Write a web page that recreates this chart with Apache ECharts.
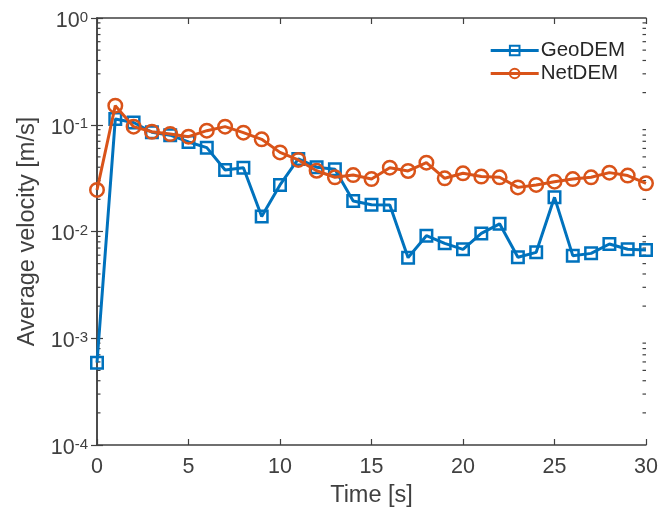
<!DOCTYPE html>
<html>
<head>
<meta charset="utf-8">
<script src="https://cdn.jsdelivr.net/npm/echarts@6/dist/echarts.min.js"></script>
<style>
  html, body { margin: 0; padding: 0; background: #fff; }
  #chart { width: 662px; height: 514px; }
</style>
</head>
<body>
<div id="chart"></div>
<script>
// Time samples [s]
const time = [0,1,2,3,4,5,6,7,8,9,10,11,12,13,14,15,16,17,18,19,20,21,22,23,24,25,26,27,28,29,30];

// Average velocity [m/s] per solver
const geoDEM = [0.00059, 0.113, 0.105, 0.085, 0.0799, 0.069, 0.061, 0.0377, 0.0396, 0.0138, 0.0273,
  0.0478, 0.040, 0.0382, 0.0193, 0.0178, 0.0177, 0.00569, 0.00914, 0.00775, 0.00681,
  0.0096, 0.0118, 0.00573, 0.00638, 0.0209, 0.00594, 0.00624, 0.00764, 0.00681, 0.00671];
const netDEM = [0.0245, 0.151, 0.096, 0.086, 0.0819, 0.0773, 0.088, 0.096, 0.0843, 0.073, 0.0551,
  0.0468, 0.0371, 0.0322, 0.0338, 0.031, 0.0396, 0.0369, 0.0441, 0.0315, 0.0351,
  0.0327, 0.0322, 0.0259, 0.0273, 0.0293, 0.031, 0.0322, 0.0356, 0.0334, 0.0283];

// Axis ranges and tick labels
const xTicks = [0, 5, 10, 15, 20, 25, 30];
const yMin = 1e-4, yMax = 1;

// Log-axis minor tick values (2..9 x 10^k)
const minorVals = [];
for (let k = -4; k < 0; k++) for (let m = 2; m <= 9; m++) minorVals.push(m * Math.pow(10, k));

const axisColor = '#404040';
const font = 'Liberation Sans, Arial, Helvetica, sans-serif';
const blue = '#0072BD', orange = '#D95319';

const chart = echarts.init(document.getElementById('chart'), null, { renderer: 'canvas' });

// "10" with a raised exponent
const yLabel = {
  color: axisColor, fontFamily: font, margin: 9, padding: [6, 0, 0, 0],
  formatter: v => '{b|10}{s|' + Math.round(Math.log10(v)) + '}',
  rich: {
    b: { fontSize: 21.5, fontFamily: font, color: axisColor, lineHeight: 22, verticalAlign: 'bottom' },
    s: { fontSize: 15, fontFamily: font, color: axisColor, lineHeight: 20, verticalAlign: 'top', padding: [0, 0, 9, 0] }
  }
};

chart.setOption({
  animation: false,
  backgroundColor: '#fff',
  grid: { left: 97, right: 16, top: 18, bottom: 69, containLabel: false },
  legend: {
    right: 32, top: 35, orient: 'vertical', itemGap: 2,
    itemWidth: 48, itemHeight: 12,
    lineStyle: { width: 3 },
    textStyle: { fontFamily: font, fontSize: 20.5, color: '#262626', padding: [0, 0, 0, -3] },
    data: ['GeoDEM', 'NetDEM']
  },
  xAxis: [{
    type: 'value', min: 0, max: 30, interval: 5,
    name: 'Time [s]', nameLocation: 'middle', nameGap: 39,
    nameTextStyle: { fontFamily: font, fontSize: 23.5, color: axisColor },
    axisLine: { lineStyle: { color: axisColor, width: 1.5 } },
    axisTick: { inside: true, length: 6, lineStyle: { color: axisColor, width: 1.2 } },
    axisLabel: { fontFamily: font, fontSize: 21.5, color: axisColor, margin: 11,
      formatter: v => xTicks.includes(v) ? String(v) : '' },
    splitLine: { show: false }
  }, {
    type: 'value', min: 0, max: 30, interval: 5, position: 'top',
    axisLine: { lineStyle: { color: axisColor, width: 1.5 } },
    axisTick: { inside: true, length: 6, lineStyle: { color: axisColor, width: 1.2 } },
    axisLabel: { show: false }, splitLine: { show: false }
  }],
  yAxis: [{
    type: 'log', logBase: 10, min: yMin, max: yMax,
    name: 'Average velocity [m/s]', nameLocation: 'middle', nameGap: 55,
    nameTextStyle: { fontFamily: font, fontSize: 23.5, color: axisColor },
    axisLine: { show: true, lineStyle: { color: axisColor, width: 1.5 } },
    axisTick: { show: true, inside: true, length: 6, lineStyle: { color: axisColor, width: 1.2 } },
    axisLabel: yLabel,
    splitLine: { show: false }, minorTick: { show: false }
  }, {
    type: 'log', logBase: 10, min: yMin, max: yMax, position: 'right',
    axisLine: { show: true, lineStyle: { color: axisColor, width: 1.5 } },
    axisTick: { show: true, inside: true, length: 6, lineStyle: { color: axisColor, width: 1.2 } },
    axisLabel: { show: false }, splitLine: { show: false }
  }],
  series: [
    {
      // minor ticks of the log axis, on both the left and the right frame
      type: 'custom', silent: true, z: 1,
      data: minorVals.map(v => [0, v]),
      renderItem: (params, api) => {
        const v = api.value(1);
        const l = api.coord([0, v]);
        const r = api.coord([30, v]);
        const st = { stroke: axisColor, lineWidth: 1.2 };
        return {
          type: 'group', children: [
            { type: 'line', shape: { x1: l[0], y1: l[1], x2: l[0] + 3.5, y2: l[1] }, style: st },
            { type: 'line', shape: { x1: r[0], y1: r[1], x2: r[0] - 3.5, y2: r[1] }, style: st }
          ]
        };
      }
    },
    {
      name: 'GeoDEM', type: 'line', z: 3,
      data: time.map((t, i) => [t, geoDEM[i]]),
      symbol: 'rect', symbolSize: 11.5,
      lineStyle: { color: blue, width: 3 },
      itemStyle: { color: 'rgba(255,255,255,0)', borderColor: blue, borderWidth: 2.5 },
      emphasis: { disabled: true }
    },
    {
      name: 'NetDEM', type: 'line', z: 4,
      data: time.map((t, i) => [t, netDEM[i]]),
      symbol: 'circle', symbolSize: 13.5,
      lineStyle: { color: orange, width: 3 },
      itemStyle: { color: 'rgba(255,255,255,0)', borderColor: orange, borderWidth: 2.5 },
      emphasis: { disabled: true }
    }
  ]
});
</script>
</body>
</html>
